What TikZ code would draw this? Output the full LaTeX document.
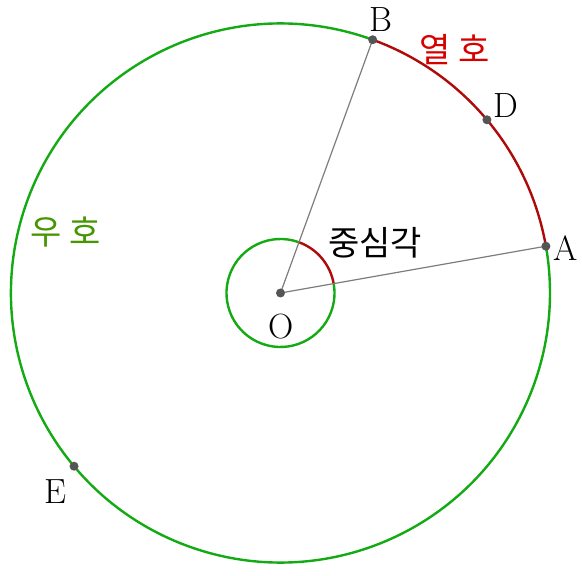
\documentclass[tikz,border=0pt]{standalone}
\usepackage{fontspec}
\newfontfamily\kr{Noto Sans CJK KR}
\definecolor{arcgreen}{RGB}{20,170,20}
\definecolor{arcred}{RGB}{175,10,10}
\definecolor{txtred}{RGB}{215,0,0}
\definecolor{txtgreen}{RGB}{70,150,0}
\definecolor{dotgray}{RGB}{85,85,85}
\definecolor{linegray}{RGB}{125,125,125}
\begin{document}
\begin{tikzpicture}[x=1pt,y=1pt,
  lbl/.style={font=\fontsize{35}{40}\selectfont, inner sep=0pt},
  krlbl/.style={font=\fontsize{34}{40}\selectfont\kr, inner sep=0pt},
  greenarc/.style={draw=arcgreen, line width=2.4pt},
  redarc/.style={draw=arcred, line width=2.4pt},
  radius/.style={draw=linegray, line width=1.2pt},
  pt/.style={circle, fill=dotgray, inner sep=0pt, minimum size=9pt}]
\useasboundingbox (-280.5,-283) rectangle (301.5,293);
\fill[white] (-280.5,-283) rectangle (301.5,293);
\def\R{269.5}
\def\r{54}
\coordinate (O) at (0,0);
\coordinate (A) at (10:\R);
\coordinate (B) at (70:\R);
\coordinate (D) at (40:\R);
\coordinate (E) at (220:\R);
\coordinate (a) at (10:\r);
\coordinate (b) at (70:\r);
% big circle
\draw[greenarc] (B) arc (70:370:\R);
\draw[redarc] (A) arc (10:70:\R);
% small circle
\draw[greenarc] (b) arc (70:370:\r);
\draw[redarc] (a) arc (10:70:\r);
% radii
\draw[radius] (O) -- (A);
\draw[radius] (O) -- (B);
% points
\node[pt] (pO) at (O) {};
\node[pt] (pA) at (A) {};
\node[pt] (pB) at (B) {};
\node[pt] (pD) at (D) {};
\node[pt] (pE) at (E) {};
% labels
\node[lbl] (lB) at (100.5,273) {B};
\node[lbl] (lD) at (225.5,187) {D};
\node[lbl] (lA) at (285.5,45) {A};
\node[lbl] (lE) at (-225.5,-199) {E};
\node[lbl] (lO) at (0.5,-34) {O};
\node[krlbl] (cang) at (94.5,50) {중심각};
\node[krlbl, text=txtred] (yeol) at (174.5,243) {열 호};
\node[krlbl, text=txtgreen] (u) at (-214.5,61) {우 호};
\end{tikzpicture}
\end{document}
